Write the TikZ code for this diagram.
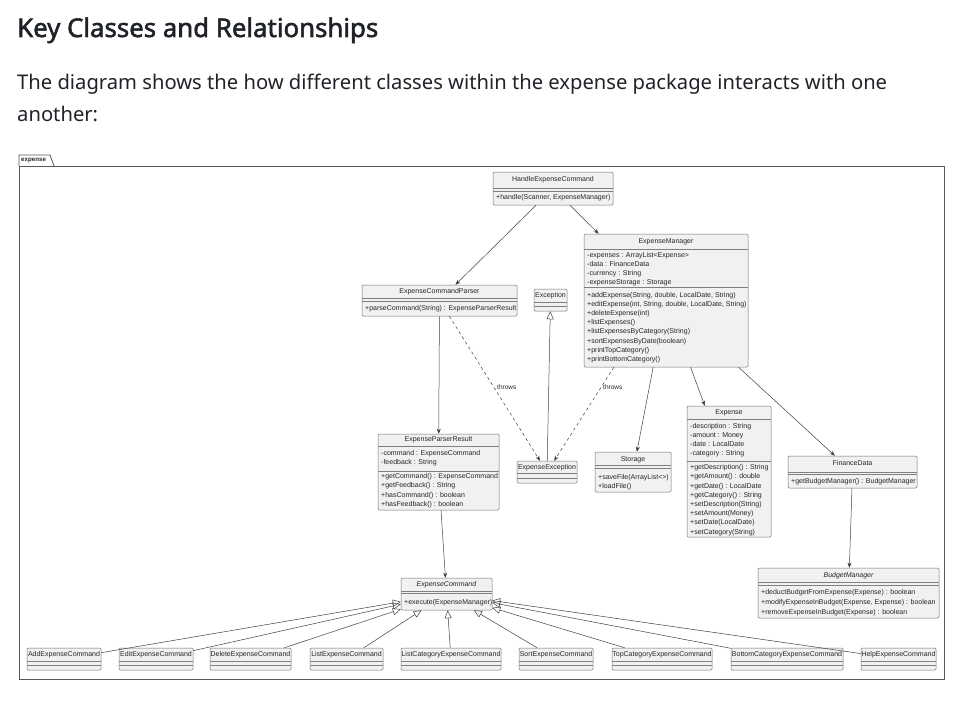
\documentclass[tikz,border=0pt]{standalone}
\usepackage{fontspec}
\setmainfont{Noto Sans}[AutoFakeBold=2]
\newfontfamily\diagfont{Liberation Sans}
\usetikzlibrary{arrows.meta,fit}
\definecolor{clsfill}{HTML}{F1F1F1}
\definecolor{txtdark}{HTML}{1F2328}
\newcommand\clsbox[5]{\node[clsbox, fit={(#2,#3) (#4,#5)}] (#1) {};}
\newcommand\csep[2]{\draw[sepline] (#1.west |- 0,#2) -- (#1.east |- 0,#2);}
\newcommand\ctitle[3]{\node[ctitlestyle] (#1-t) at (#1.north |- 0,#2) {#3};}
\newcommand\mln[4]{\node[mtxt] (#1) at (#2,#3) {#4};}
\newcommand\smallcls[4]{\clsbox{#1}{#2}{648}{#3}{670}\csep{#1}{661}\csep{#1}{665}\ctitle{#1}{655}{#4}}
\begin{document}
\begin{tikzpicture}[x=1pt,y=-1pt,
  clsbox/.style={draw=black!55, fill=clsfill, rounded corners=1.2pt, line width=0.5pt, inner sep=0pt},
  sepline/.style={draw=black!50, line width=0.4pt},
  ctitlestyle/.style={font=\diagfont\fontsize{7}{8}\selectfont, text=black!85, inner sep=0pt, text height=5pt, text depth=1.5pt},
  mtxt/.style={font=\diagfont\fontsize{7}{8}\selectfont, text=black!85, inner sep=0pt, anchor=west, text height=5pt, text depth=1.5pt},
  lbl/.style={font=\diagfont\fontsize{6.5}{7}\selectfont, text=black!85, inner sep=0pt, anchor=west},
  conn/.style={draw=black!75, line width=0.5pt},
  assoc/.style={conn, -{Stealth[length=5pt, width=4pt, inset=1.5pt]}},
  dep/.style={assoc, dash pattern=on 3pt off 3pt},
  inh/.style={conn, -{Triangle[open, length=8pt, width=7pt]}},
  pkg/.style={draw=black!65, line width=0.8pt}
]
\useasboundingbox (0,0) rectangle (957,701);
\fill[white] (0,0) rectangle (957,701);

% page text
\node[anchor=base west, inner sep=0pt, text=txtdark, font=\fontsize{25.8}{30}\selectfont\bfseries] (head) at (17,37) {Key Classes and Relationships};
\node[anchor=base west, inner sep=0pt, text=txtdark, font=\fontsize{20.2}{24}\selectfont] (para1) at (17,89) {The diagram shows the how different classes within the expense package interacts with one};
\node[anchor=base west, inner sep=0pt, text=txtdark, font=\fontsize{20.2}{24}\selectfont] (para2) at (17,121) {another:};

% package frame
\draw[pkg] (19,166) rectangle (944,679);
\draw[pkg] (19,166) -- (19,155) -- (50,155) -- (54,166);
\node[anchor=west, inner sep=0pt, font=\diagfont\fontsize{6.2}{7}\selectfont\bfseries, text=black!85] (pkgname) at (21,160.5) {expense};

% HandleExpenseCommand
\clsbox{hec}{493}{172}{613}{205}
\csep{hec}{188}\csep{hec}{191}
\ctitle{hec}{180}{HandleExpenseCommand}
\mln{hec-m1}{496}{198}{+handle(Scanner, ExpenseManager)}

% ExpenseManager
\clsbox{em}{584}{234}{748}{367}
\csep{em}{249}\csep{em}{287}
\ctitle{em}{241.5}{ExpenseManager}
\mln{em-a1}{587}{256}{-expenses : ArrayList<Expense>}
\mln{em-a2}{587}{265}{-data : FinanceData}
\mln{em-a3}{587}{274}{-currency : String}
\mln{em-a4}{587}{283}{-expenseStorage : Storage}
\mln{em-m1}{587}{296}{+addExpense(String, double, LocalDate, String)}
\mln{em-m2}{587}{305}{+editExpense(int, String, double, LocalDate, String)}
\mln{em-m3}{587}{314}{+deleteExpense(int)}
\mln{em-m4}{587}{323}{+listExpenses()}
\mln{em-m5}{587}{332}{+listExpensesByCategory(String)}
\mln{em-m6}{587}{342}{+sortExpensesByDate(boolean)}
\mln{em-m7}{587}{351}{+printTopCategory()}
\mln{em-m8}{587}{360}{+printBottomCategory()}

% ExpenseCommandParser
\clsbox{ecp}{362}{285}{517}{316}
\csep{ecp}{298}\csep{ecp}{301}
\ctitle{ecp}{291.5}{ExpenseCommandParser}
\mln{ecp-m1}{365}{309}{+parseCommand(String) : ExpenseParserResult}

% Exception
\clsbox{exc}{534}{289}{567}{311}
\csep{exc}{302}\csep{exc}{306}
\ctitle{exc}{296}{Exception}

% ExpenseParserResult
\clsbox{epr}{378}{434}{499}{510}
\csep{epr}{446}\csep{epr}{471}
\ctitle{epr}{440}{ExpenseParserResult}
\mln{epr-a1}{381}{454}{-command : ExpenseCommand}
\mln{epr-a2}{381}{463}{-feedback : String}
\mln{epr-m1}{381}{477}{+getCommand() : ExpenseCommand}
\mln{epr-m2}{381}{486}{+getFeedback() : String}
\mln{epr-m3}{381}{496}{+hasCommand() : boolean}
\mln{epr-m4}{381}{505}{+hasFeedback() : boolean}

% ExpenseException
\clsbox{ee}{517}{461}{577}{483}
\csep{ee}{473.5}\csep{ee}{478}
\ctitle{ee}{468}{ExpenseException}

% Storage
\clsbox{sto}{595}{452}{671}{492}
\csep{sto}{465}\csep{sto}{468}
\ctitle{sto}{459.5}{Storage}
\mln{sto-m1}{598}{477.5}{+saveFile(ArrayList<>)}
\mln{sto-m2}{598}{486.5}{+loadFile()}

% Expense
\clsbox{exp}{687}{406}{771}{537}
\csep{exp}{419}\csep{exp}{461}
\ctitle{exp}{413}{Expense}
\mln{exp-a1}{690}{427}{-description : String}
\mln{exp-a2}{690}{436}{-amount : Money}
\mln{exp-a3}{690}{445}{-date : LocalDate}
\mln{exp-a4}{690}{454}{-category : String}
\mln{exp-m1}{690}{468}{+getDescription() : String}
\mln{exp-m2}{690}{477}{+getAmount() : double}
\mln{exp-m3}{690}{487}{+getDate() : LocalDate}
\mln{exp-m4}{690}{496}{+getCategory() : String}
\mln{exp-m5}{690}{505}{+setDescription(String)}
\mln{exp-m6}{690}{514}{+setAmount(Money)}
\mln{exp-m7}{690}{523}{+setDate(LocalDate)}
\mln{exp-m8}{690}{533}{+setCategory(String)}

% FinanceData
\clsbox{fd}{788}{456}{917}{488}
\csep{fd}{472}\csep{fd}{474.5}
\ctitle{fd}{464}{FinanceData}
\mln{fd-m1}{791}{481.5}{+getBudgetManager() : BudgetManager}

% BudgetManager
\clsbox{bm}{758}{568}{939}{618}
\csep{bm}{582}\csep{bm}{585}
\ctitle{bm}{576}{\itshape BudgetManager}
\mln{bm-m1}{761}{593}{+deductBudgetFromExpense(Expense) : boolean}
\mln{bm-m2}{761}{603}{+modifyExpenseInBudget(Expense, Expense) : boolean}
\mln{bm-m3}{761}{612.5}{+removeExpenseInBudget(Expense) : boolean}

% ExpenseCommand
\clsbox{ec}{401}{578}{492}{610}
\csep{ec}{591}\csep{ec}{593.5}
\ctitle{ec}{585}{\itshape ExpenseCommand}
\mln{ec-m1}{404}{602.5}{+execute(ExpenseManager)}

% command classes
\smallcls{add}{27}{101}{AddExpenseCommand}
\smallcls{edit}{119}{193}{EditExpenseCommand}
\smallcls{del}{210}{291}{DeleteExpenseCommand}
\smallcls{list}{310}{383}{ListExpenseCommand}
\smallcls{listcat}{401}{501}{ListCategoryExpenseCommand}
\smallcls{sort}{519}{593}{SortExpenseCommand}
\smallcls{top}{612}{712}{TopCategoryExpenseCommand}
\smallcls{bot}{731}{843}{BottomCategoryExpenseCommand}
\smallcls{help}{861}{936}{HelpExpenseCommand}

% connectors
\draw[assoc] (hec) -- (ecp);
\draw[assoc] (hec) -- (em);
\draw[assoc] (ecp) -- (epr);
\draw[dep] (ecp) -- (ee);
\draw[dep] (em.232) -- (ee);
\node[lbl] (thr1) at (497,387) {throws};
\node[lbl] (thr2) at (603,387) {throws};
\draw[inh] (ee) -- (exc);
\draw[assoc] (em) -- (sto);
\draw[assoc] (em) -- (exp);
\draw[assoc] (em) -- (fd);
\draw[assoc] (fd) -- (bm);
\draw[assoc] (epr) -- (ec);
\foreach \c in {add,edit,del,list,listcat,sort,top,bot,help}
  \draw[inh] (\c) -- (ec);
\end{tikzpicture}
\end{document}
